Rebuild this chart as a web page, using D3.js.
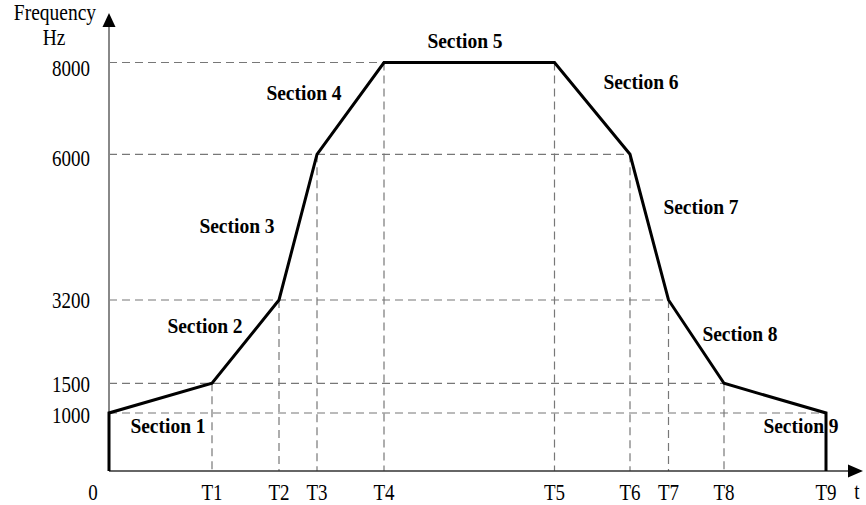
<!DOCTYPE html>
<html>
<head>
<meta charset="utf-8">
<script src="https://cdn.jsdelivr.net/npm/d3@7/dist/d3.min.js"></script>
<style>
  html, body { margin: 0; padding: 0; background: #fff; }
  svg { display: block; }
  text { font-family: "Liberation Serif", "Times New Roman", serif; fill: #000; }
</style>
</head>
<body>
<svg id="chart" width="866" height="505"></svg>
<script>
// ---------------- data ----------------
const timeLabels = ["0", "T1", "T2", "T3", "T4", "T5", "T6", "T7", "T8", "T9"];
const timeValues = [0, 1.03, 1.70, 2.08, 2.75, 4.455, 5.21, 5.595, 6.15, 7.17];
const freqTicks = [1000, 1500, 3200, 6000, 8000];
const freqLabels = ["1000", "1500", "3200", "6000", "8000"];
// frequency at each time point T0..T9 (profile)
const freqValues = [1000, 1500, 3200, 6000, 8000, 8000, 6000, 3200, 1500, 1000];
const sectionLabels = ["Section 1", "Section 2", "Section 3", "Section 4", "Section 5",
                       "Section 6", "Section 7", "Section 8", "Section 9"];

// ---------------- layout ----------------
const svg = d3.select("#chart");
const x = d3.scaleLinear().domain([0, 7.5]).range([109, 859]);
// schematic (non-uniform) frequency axis
const y = d3.scaleLinear()
  .domain([0, 1000, 1500, 3200, 6000, 8000])
  .range([471, 413, 383.3, 300, 154.3, 62.5]);

const dashColor = "#777";
const stretch = 1.18;

// dashed horizontal guide lines: from the axis to the right-most point at that level
freqTicks.forEach(f => {
  let lastIdx = 0;
  freqValues.forEach((v, i) => { if (v === f) lastIdx = i; });
  svg.append("line")
    .attr("x1", x(0)).attr("x2", x(timeValues[lastIdx]))
    .attr("y1", y(f)).attr("y2", y(f))
    .attr("stroke", dashColor).attr("stroke-width", 1.2)
    .attr("stroke-dasharray", "8,5");
});
// dashed vertical guide lines
timeValues.forEach((t, i) => {
  if (i === 0) return;
  svg.append("line")
    .attr("x1", x(t)).attr("x2", x(t))
    .attr("y1", y(freqValues[i])).attr("y2", y(0))
    .attr("stroke", dashColor).attr("stroke-width", 1.2)
    .attr("stroke-dasharray", "8,5");
});

// axes
svg.append("line")
  .attr("x1", x(0)).attr("x2", x(0))
  .attr("y1", y(0)).attr("y2", 24)
  .attr("stroke", "#888").attr("stroke-width", 2);
svg.append("path")
  .attr("d", `M${x(0)},13 L${x(0) - 6.5},27 L${x(0) + 6.5},27 Z`)
  .attr("fill", "#000");
svg.append("line")
  .attr("x1", x(0)).attr("x2", 850)
  .attr("y1", y(0)).attr("y2", y(0))
  .attr("stroke", "#333").attr("stroke-width", 1.6);
svg.append("path")
  .attr("d", `M863,${y(0)} L848,${y(0) - 6.5} L848,${y(0) + 6.5} Z`)
  .attr("fill", "#000");

// frequency profile line
const pts = [[0, 0]].concat(timeValues.map((t, i) => [t, freqValues[i]]))
  .concat([[timeValues[timeValues.length - 1], 0]]);
svg.append("path")
  .datum(pts)
  .attr("d", d3.line().x(d => x(d[0])).y(d => y(d[1])))
  .attr("fill", "none")
  .attr("stroke", "#000")
  .attr("stroke-width", 3)
  .attr("stroke-linejoin", "miter");

// helper for (slightly tall) serif text
function txt(str, px, py, opts = {}) {
  const t = svg.append("text")
    .attr("transform", `translate(${px},${py}) scale(1,${opts.sy || stretch})`)
    .attr("text-anchor", opts.anchor || "middle")
    .attr("font-size", opts.size || 19)
    .attr("font-weight", opts.weight || "normal")
    .text(str);
  return t;
}

// y tick labels
const yOff = { 1000: 10, 1500: 8.5, 3200: 8, 6000: 11.5, 8000: 13 };
freqTicks.forEach((f, i) => txt(freqLabels[i], 90, y(f) + yOff[f], { anchor: "end" }));

// x tick labels
timeLabels.forEach((lbl, i) => {
  const px = i === 0 ? 93 : x(timeValues[i]);
  txt(lbl, px, 500);
});
txt("t", 857, 499);

// axis title
txt("Frequency", 55, 20, { size: 19.5 });
txt("Hz", 54, 45, { size: 19.5 });

// section labels (annotation positions)
const sectionPos = [[168, 433], [205, 333], [237, 233], [304, 100], [465, 48],
                    [641, 89], [701, 214], [740, 341], [801, 433]];
sectionLabels.forEach((s, i) => {
  txt(s, sectionPos[i][0], sectionPos[i][1], { weight: "bold", size: 19.5, sy: 1.06 });
});
</script>
</body>
</html>
